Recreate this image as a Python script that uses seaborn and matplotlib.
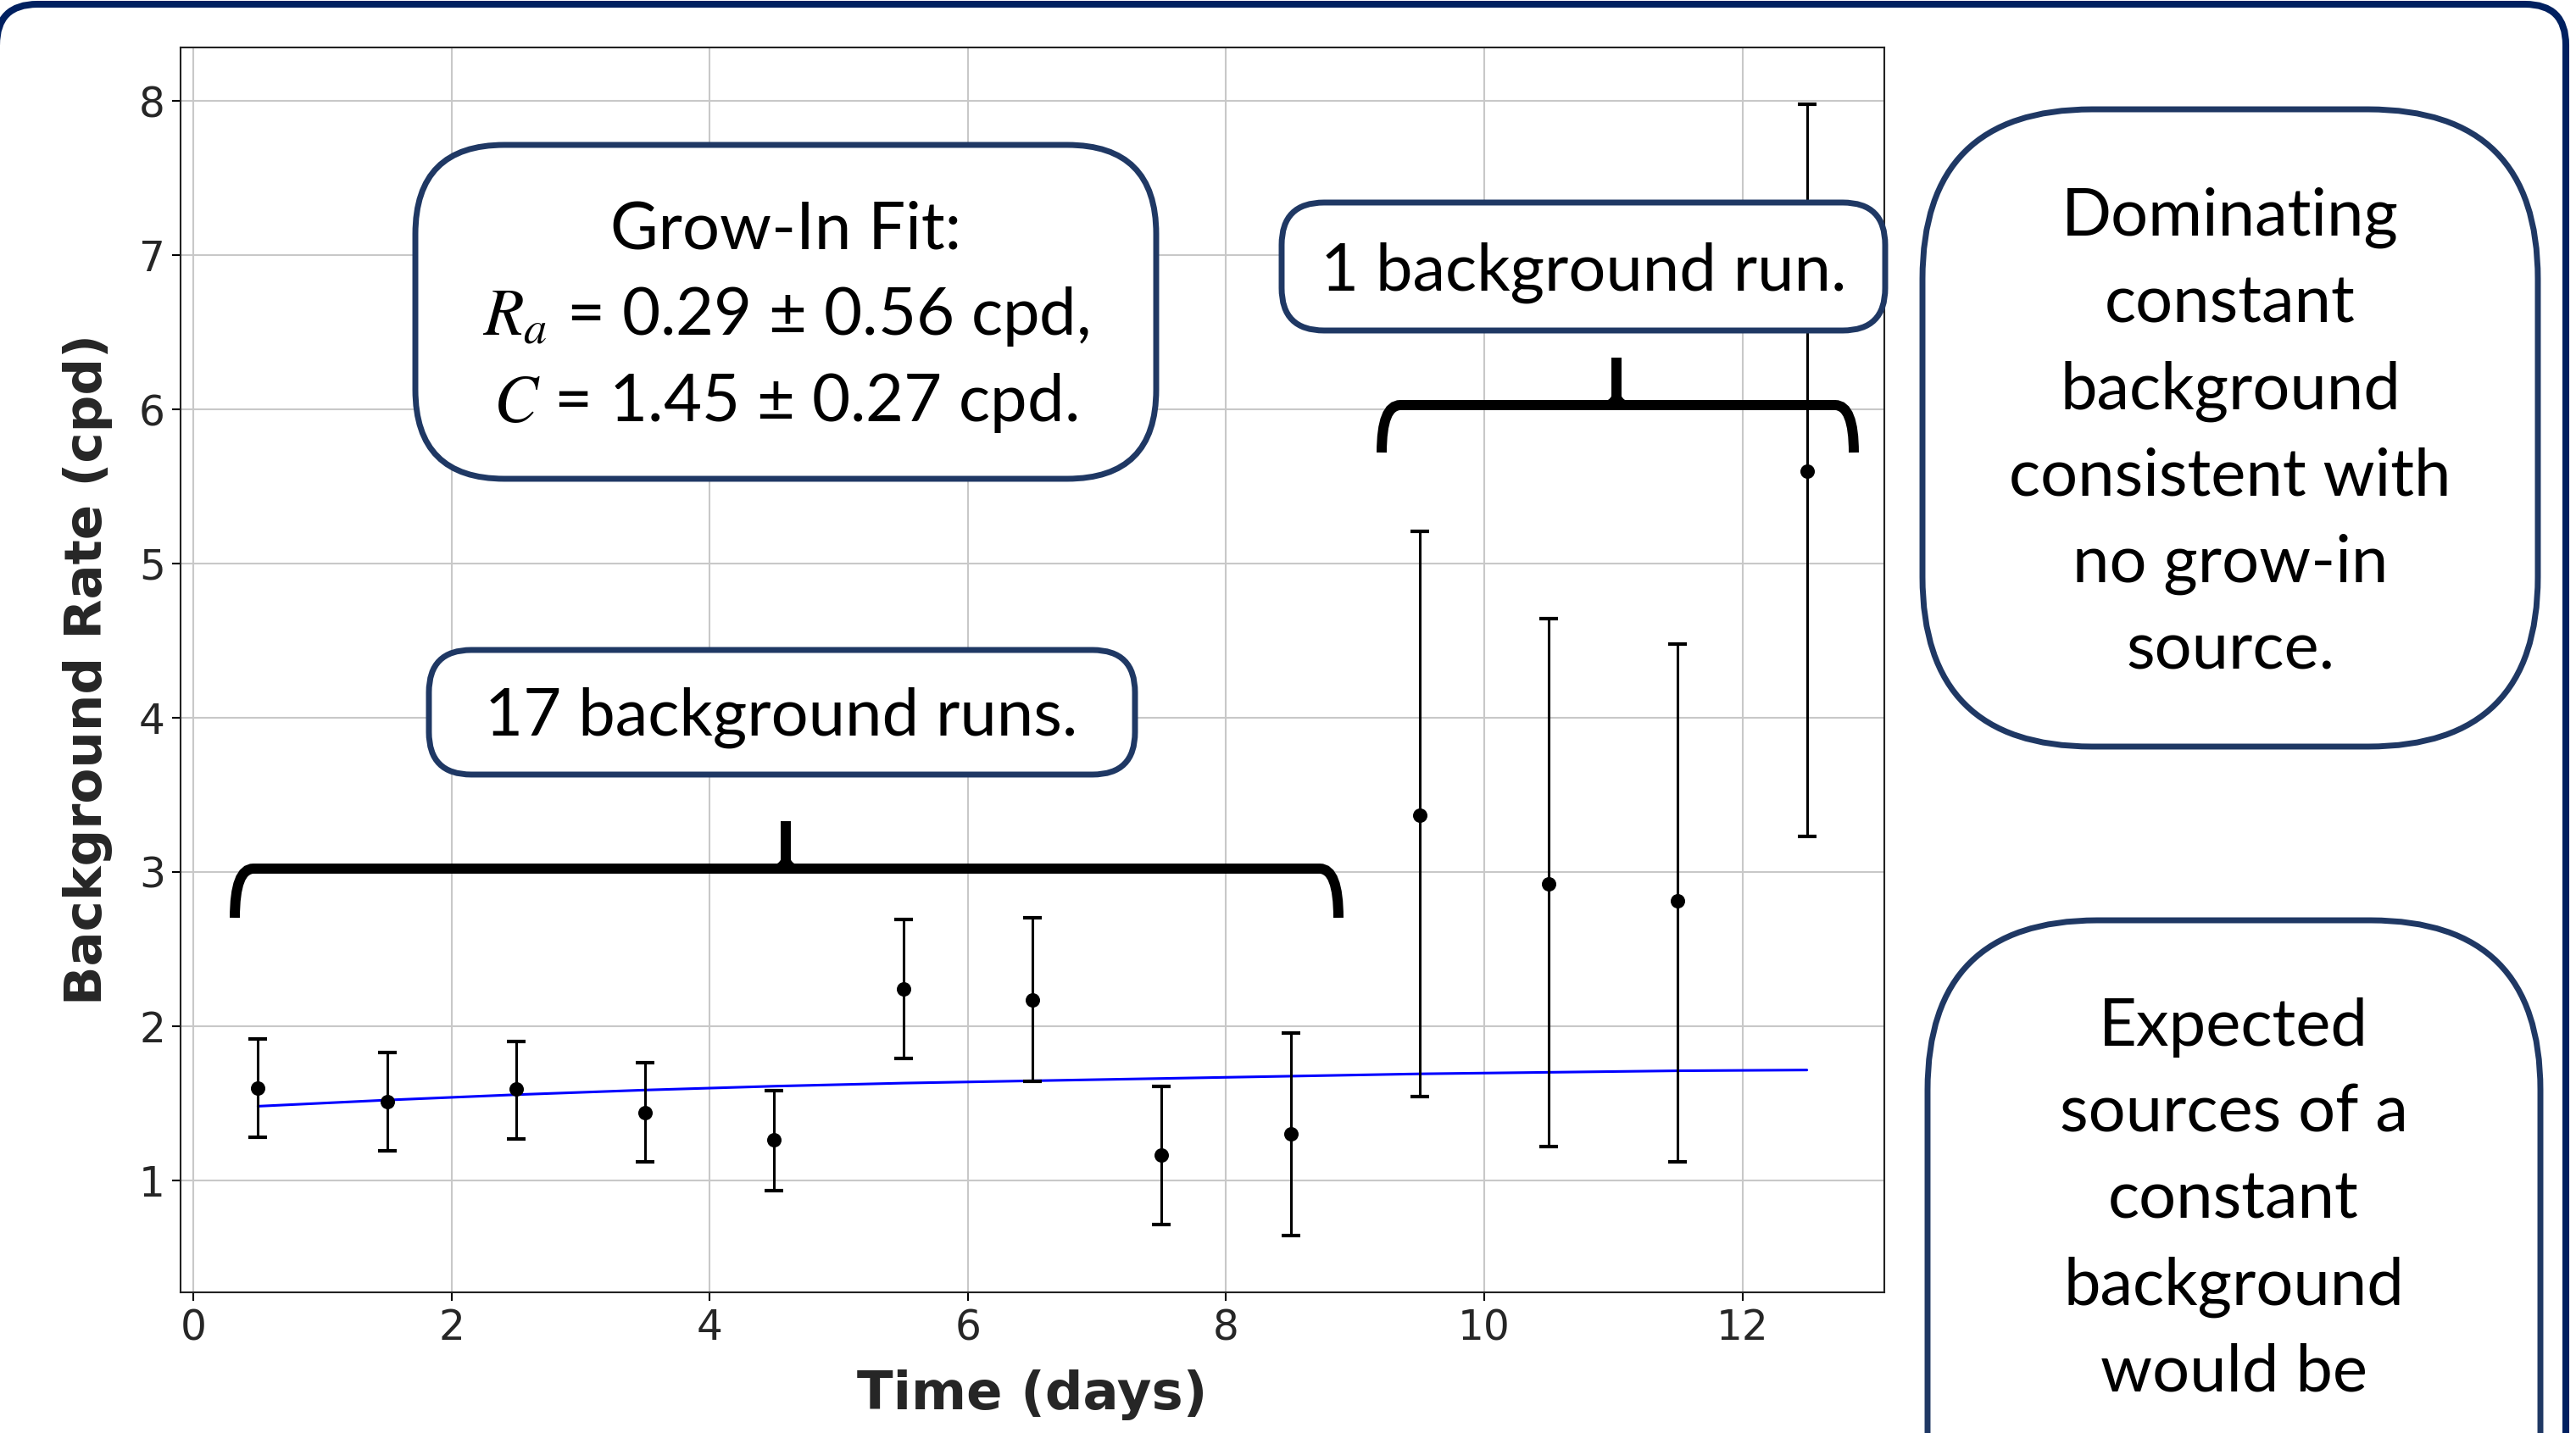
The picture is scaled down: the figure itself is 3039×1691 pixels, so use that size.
import matplotlib
matplotlib.use("Agg")
import matplotlib.pyplot as plt
import numpy as np
import pandas as pd
import seaborn as sns
from matplotlib.patches import FancyBboxPatch, PathPatch
from matplotlib.path import Path
from matplotlib.transforms import Affine2D

# Data
times = [0.5, 1.5, 2.5, 3.5, 4.5, 5.5, 6.5, 7.5, 8.5, 9.5, 10.5, 11.5, 12.5]
rates = [1.597, 1.51, 1.59, 1.44, 1.26, 2.24, 2.17, 1.165, 1.30, 3.37, 2.92, 2.81, 5.60]
upper = [1.915, 1.83, 1.90, 1.76, 1.58, 2.69, 2.70, 1.61, 1.956, 5.21, 4.645, 4.475, 7.98]
lower = [1.28, 1.19, 1.27, 1.12, 0.935, 1.79, 1.64, 0.715, 0.64, 1.54, 1.22, 1.12, 3.23]
fit_vals = [1.48, 1.52, 1.555, 1.585, 1.61, 1.63, 1.645, 1.66, 1.675, 1.69, 1.70, 1.71, 1.715]

x_ticks = [0, 2, 4, 6, 8, 10, 12]
y_ticks = [1, 2, 3, 4, 5, 6, 7, 8]

grow_lines = ["Grow-In Fit:", "$R_a$ = 0.29 ± 0.56 cpd,", "$C$ = 1.45 ± 0.27 cpd."]
dom_lines = ["Dominating", "constant", "background", "consistent with", "no grow-in", "source."]
exp_lines = ["Expected", "sources of a", "constant", "background", "would be"]

df = pd.DataFrame({"time": times, "rate": rates, "upper": upper, "lower": lower, "fit": fit_vals})

sns.set_style("whitegrid")
plt.rcParams["font.family"] = ["DejaVu Sans"]
plt.rcParams["mathtext.fontset"] = "stix"

W, H = 3039, 1691
fig = plt.figure(figsize=(W / 100, H / 100), dpi=100)
fig.patch.set_facecolor("white")
# pixel coords measured from top-left
px = Affine2D().scale(1 / W, -1 / H).translate(0, 1) + fig.transFigure

ax = fig.add_axes([213 / W, 1 - 1525 / H, (2223 - 213) / W, (1525 - 56) / H])
ax.errorbar(df["time"], df["rate"],
            yerr=[df["rate"] - df["lower"], df["upper"] - df["rate"]],
            fmt="none", ecolor="black", elinewidth=2.2, capsize=8, capthick=3, zorder=3)
sns.scatterplot(data=df, x="time", y="rate", color="black", s=150, edgecolor="black",
                linewidth=0, ax=ax, zorder=4)
sns.lineplot(data=df, x="time", y="fit", color="#0000ff", linewidth=2.2, ax=ax, zorder=2)

ax.set_xticks(x_ticks)
ax.set_yticks(y_ticks)
ax.tick_params(axis="both", labelsize=35, length=7, width=1.5, color="black",
               bottom=True, left=True, pad=6)
ax.grid(True, color="#c8c8c8", linewidth=1.5)
for s in ax.spines.values():
    s.set_color("#222222")
    s.set_linewidth(1.5)
ax.set_xlabel("Time (days)", fontsize=45, fontweight="bold")
ax.set_ylabel("Background Rate (cpd)", fontsize=44, fontweight="bold")
ax.xaxis.set_label_coords(0.5, -0.062)
ax.yaxis.set_label_coords(-0.040, 0.5)

box_font = ["Lato", "DejaVu Sans"]


def rbox(x0, y0, x1, y1, r, color="#1f3864", lw=5, z=5):
    p = FancyBboxPatch((x0, y0), x1 - x0, y1 - y0,
                       boxstyle=f"round,pad=0,rounding_size={r}",
                       facecolor="white", edgecolor=color, linewidth=lw,
                       transform=px, zorder=z)
    fig.add_artist(p)
    return p


def label(x, y, s, size=56):
    fig.text(x, y, s, transform=px, ha="center", va="baseline", fontsize=size,
             family=box_font, color="black", zorder=6)


def brace(x0, x1, xt, yh, yb, yt, lw=8.6):
    verts = [(x0, yb), (x0, yh), (x0 + 22, yh), (x1 - 22, yh), (x1, yh), (x1, yb)]
    codes = [Path.MOVETO, Path.CURVE3, Path.CURVE3, Path.LINETO, Path.CURVE3, Path.CURVE3]
    fig.add_artist(PathPatch(Path(verts, codes), fill=False, lw=lw, color="black",
                             capstyle="butt", transform=px, zorder=5))
    fig.add_artist(PathPatch(Path([(xt, yh), (xt, yt)]), fill=False, lw=lw, color="black",
                             capstyle="butt", transform=px, zorder=5))
    flare = Path([(xt - 20, yh), (xt, yh), (xt, yh - 22), (xt + 20, yh), (xt, yh), (xt, yh - 22)],
                 [Path.MOVETO, Path.CURVE3, Path.CURVE3, Path.MOVETO, Path.CURVE3, Path.CURVE3])
    fig.add_artist(PathPatch(flare, fill=False, lw=lw * 0.6, color="black",
                             transform=px, zorder=5))


# outer slide frame (only the top part is visible)
fr = 48
frame_path = Path([(-4, 1700), (-4, 5 + fr), (-4, 5), (-4 + fr, 5), (3027 - fr, 5),
                   (3027, 5), (3027, 5 + fr), (3027, 1700)],
                  [Path.MOVETO, Path.LINETO, Path.CURVE3, Path.CURVE3, Path.LINETO,
                   Path.CURVE3, Path.CURVE3, Path.LINETO])
fig.add_artist(PathPatch(frame_path, fill=False, edgecolor="#002060", lw=5.8,
                         transform=px, zorder=4))

rbox(490, 171, 1364, 565, 105)
for i, s in enumerate(grow_lines):
    label(927, 293 + i * 102, s)

rbox(506, 767, 1339, 914, 50)
label(922, 868, "17 background runs.")

rbox(1512, 239, 2224, 390, 50)
label(1868, 343, "1 background run.")

rbox(2268, 129, 2994, 881, 200)
for i, s in enumerate(dom_lines):
    label(2631, 278 + i * 102.2, s)

rbox(2274, 1086, 2997, 1900, 200)
for i, s in enumerate(exp_lines):
    label(2635, 1234 + i * 101.8, s)

brace(277, 1579, 927, 1025, 1083, 969)
brace(1630, 2187, 1907, 478, 534, 422)

fig.savefig("out.png", dpi=100)
